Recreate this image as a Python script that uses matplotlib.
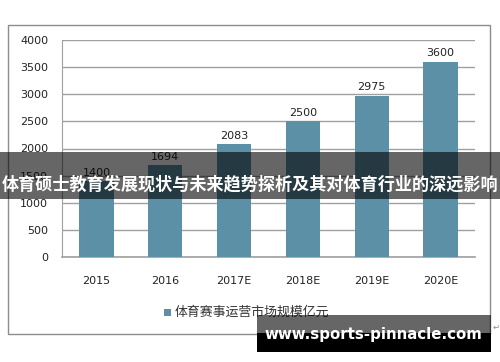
import matplotlib
matplotlib.use("Agg")
import matplotlib.pyplot as plt
from matplotlib.patches import Rectangle

categories = ["2015", "2016", "2017E", "2018E", "2019E", "2020E"]
values = [1400, 1694, 2083, 2500, 2975, 3600]
yticks = [0, 500, 1000, 1500, 2000, 2500, 3000, 3500, 4000]
legend_label = "体育赛事运营市场规模亿元"
title = "体育硕士教育发展现状与未来趋势探析及其对体育行业的深远影响"
watermark = "www.sports-pinnacle.com"

W, H = 500, 362
fig = plt.figure(figsize=(W / 100, H / 100), dpi=100)
fig.patch.set_facecolor("white")

def fx(px):
    return px / W

def fy(py):
    return 1 - py / H

# outer chart box
fig.add_artist(Rectangle((fx(7.5), fy(334)), fx(490) - fx(7.5), fy(25) - fy(334),
                         transform=fig.transFigure, fill=False, edgecolor="#8c8c8c", lw=1.0))

ax = fig.add_axes([fx(62), fy(257), fx(475) - fx(62), fy(40) - fy(257)])
bar_color = "#5B90A6"
x = range(len(categories))
bars = ax.bar(x, values, width=0.5, color=bar_color, zorder=3)
ax.set_xlim(-0.5, len(categories) - 0.5)
ax.set_ylim(0, 4000)
ax.set_yticks(yticks)
ax.set_yticklabels([str(v) for v in yticks], fontsize=8, color="#222222")
ax.set_xticks(list(x))
ax.set_xticklabels(categories, fontsize=8, color="#222222")
ax.tick_params(axis="y", length=0, pad=10)
ax.tick_params(axis="x", length=0, pad=14)
ax.grid(axis="y", color="#a0a0a0", lw=1.0, zorder=0)
for s in ["top", "right"]:
    ax.spines[s].set_visible(False)
ax.spines["left"].set_color("#a0a0a0")
ax.spines["bottom"].set_color("#a0a0a0")
ax.spines["bottom"].set_linewidth(1.2)

for xi, v in zip(x, values):
    ax.text(xi, v + 60, str(v), ha="center", va="bottom", fontsize=8, color="#222222")

# legend
fig.add_artist(Rectangle((fx(164), fy(316)), fx(7), fy(309) - fy(316),
                         transform=fig.transFigure, facecolor=bar_color, edgecolor="none"))
fig.text(fx(175), fy(312.5), legend_label, fontsize=9.3, color="#333333", va="center", ha="left",
         family=["Noto Sans CJK SC", "DejaVu Sans"])

# title band overlay
fig.add_artist(Rectangle((0, fy(199)), 1, fy(152) - fy(199), transform=fig.transFigure,
                         facecolor="black", alpha=0.6, edgecolor="none", zorder=10))
fig.text(0.5, fy(184), title, fontsize=12.3, color="white", weight="bold",
         ha="center", va="center", family=["Noto Sans CJK SC", "DejaVu Sans"], zorder=11)

# watermark
fig.add_artist(Rectangle((fx(257), fy(333)), fx(491) - fx(257), fy(315) - fy(333),
                         transform=fig.transFigure, facecolor="black", alpha=0.6,
                         edgecolor="none", zorder=10))
fig.add_artist(Rectangle((fx(257), fy(352)), fx(491) - fx(257), fy(333) - fy(352),
                         transform=fig.transFigure, facecolor="black",
                         edgecolor="none", zorder=10))
fig.text(fx(373), fy(334), watermark, fontsize=10.8, color="white", weight="bold",
         ha="center", va="center", family=["DejaVu Sans"], zorder=11)
fig.text(fx(496), fy(327), "↵", fontsize=6, color="#888888", ha="center", va="center",
         family=["DejaVu Sans"])

fig.savefig("out.png", dpi=100)
